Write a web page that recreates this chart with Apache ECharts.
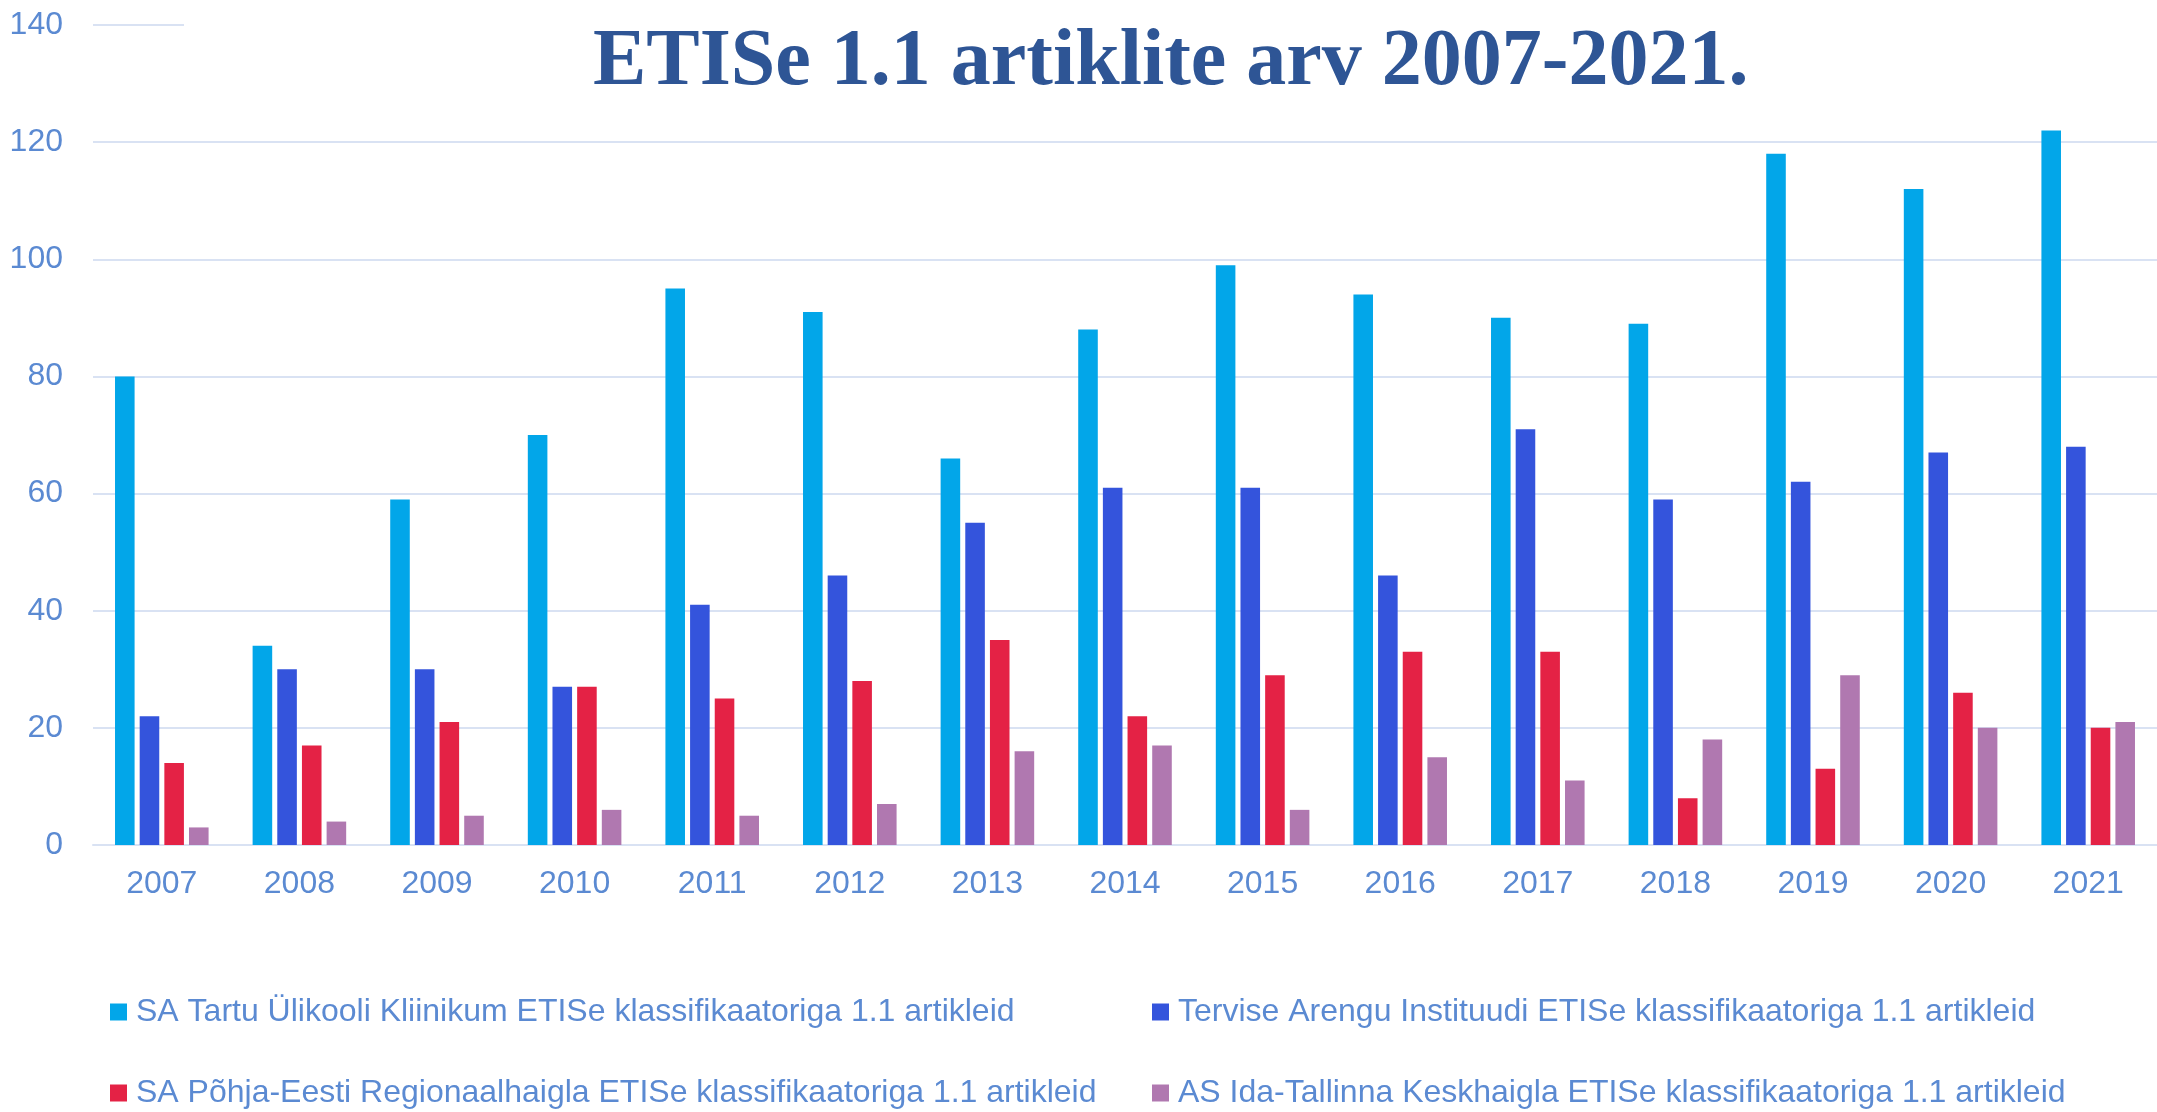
<!DOCTYPE html>
<html>
<head>
<meta charset="utf-8">
<title>ETISe 1.1 artiklite arv 2007-2021.</title>
<script src="https://cdn.jsdelivr.net/npm/echarts@6/dist/echarts.min.js"></script>
<style>
	html, body { margin : 0; padding : 0; background : #fff; }
	#etis-chart { width : 2157px; height : 1112px; }
</style>
</head>
<body>
<div id="etis-chart"></div>
<script>
var years = [ '2007', '2008', '2009', '2010', '2011', '2012', '2013', '2014', '2015', '2016', '2017', '2018', '2019', '2020', '2021' ];
var seriesNames = [ 'SA Tartu Ülikooli Kliinikum ETISe klassifikaatoriga 1.1 artikleid',
		'Tervise Arengu Instituudi ETISe klassifikaatoriga 1.1 artikleid',
		'SA Põhja-Eesti Regionaalhaigla ETISe klassifikaatoriga 1.1 artikleid',
		'AS Ida-Tallinna Keskhaigla ETISe klassifikaatoriga 1.1 artikleid' ];
var tartu = [ 80, 34, 59, 70, 95, 91, 66, 88, 99, 94, 90, 89, 118, 112, 122 ];
var tai = [ 22, 30, 30, 27, 41, 46, 55, 61, 61, 46, 71, 59, 62, 67, 68 ];
var regionaal = [ 14, 17, 21, 27, 25, 28, 35, 22, 29, 33, 33, 8, 13, 26, 20 ];
var idaTallinn = [ 3, 4, 5, 6, 5, 7, 16, 17, 6, 15, 11, 18, 29, 20, 21 ];
var yTicks = [ 0, 20, 40, 60, 80, 100, 120, 140 ];

var EtisChart = function() {

	var labelColor = '#5b8ad2';
	var gridColor = '#d9e2f3';
	var colors = [ '#02a6e9', '#3454dc', '#e42245', '#b078b0' ];
	var values = [ tartu, tai, regionaal, idaTallinn ];
	// legend slots: two columns, two rows (order of series)
	var legendLeft = [ 105, 1147, 105, 1147 ];
	var legendTop = [ 990, 990, 1071, 1071 ];

	var series = [];
	var legends = [];
	for (var i = 0; i < values.length; i++) {
		series.push({
			name : seriesNames[i],
			type : 'bar',
			data : values[i],
			barGap : '26%',
			barCategoryGap : '32%',
			itemStyle : {
				color : colors[i]
			}
		});
		legends.push({
			left : legendLeft[i],
			top : legendTop[i],
			itemWidth : 17,
			itemHeight : 17,
			icon : 'rect',
			selectedMode : false,
			data : [ seriesNames[i] ],
			textStyle : {
				color : labelColor,
				fontFamily : 'Liberation Sans, Arial, sans-serif',
				fontSize : 32,
				lineHeight : 34,
				padding : [ 0, 0, 0, 4 ]
			}
		});
	}

	var option = {
		animation : false,
		backgroundColor : '#fff',
		title : {
			text : 'ETISe 1.1 artiklite arv 2007-2021.',
			left : 184,
			top : 0,
			padding : [ 18, 409, 10, 409 ],
			backgroundColor : '#fff',
			textStyle : {
				color : '#2e5595',
				fontFamily : 'Liberation Serif, Times New Roman, serif',
				fontWeight : 'bold',
				fontSize : 80,
				lineHeight : 90
			}
		},
		legend : legends,
		grid : {
			left : 93,
			right : -21,
			top : 25,
			bottom : 267,
			containLabel : false
		},
		xAxis : {
			type : 'category',
			data : years,
			axisTick : { show : false },
			axisLine : {
				lineStyle : { color : gridColor, width : 2 }
			},
			axisLabel : {
				color : labelColor,
				fontFamily : 'Liberation Sans, Arial, sans-serif',
				fontSize : 32,
				margin : 23
			}
		},
		yAxis : {
			type : 'value',
			min : yTicks[0],
			max : yTicks[yTicks.length - 1],
			interval : yTicks[1] - yTicks[0],
			axisLine : { show : false },
			axisTick : { show : false },
			splitLine : {
				lineStyle : { color : gridColor, width : 2 }
			},
			axisLabel : {
				color : labelColor,
				fontFamily : 'Liberation Sans, Arial, sans-serif',
				fontSize : 32,
				margin : 30
			}
		},
		series : series
	};

	var chart = echarts.init(document.getElementById('etis-chart'));

	return {
		init : function() {
			chart.setOption(option, true);
		}
	};
}();

EtisChart.init();
</script>
</body>
</html>
